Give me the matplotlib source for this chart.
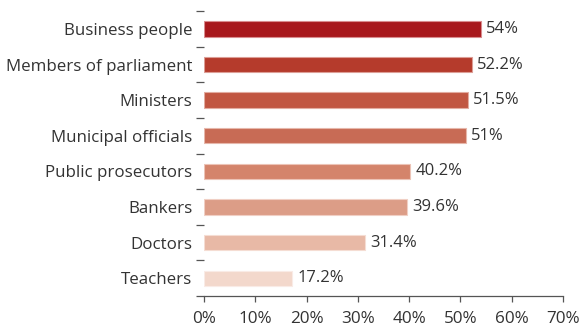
import matplotlib
matplotlib.use('Agg')
import matplotlib.pyplot as plt
import numpy as np

plt.rcParams['font.family'] = ['Open Sans', 'DejaVu Sans']

groups = ['Business people', 'Members of parliament', 'Ministers', 'Municipal officials',
          'Public prosecutors', 'Bankers', 'Doctors', 'Teachers']
shares = [54, 52.2, 51.5, 51, 40.2, 39.6, 31.4, 17.2]
share_labels = ['54%', '52.2%', '51.5%', '51%', '40.2%', '39.6%', '31.4%', '17.2%']
bar_colors = ['#a8181c', '#b53b2c', '#c15641', '#c86b55', '#d4846b', '#dc9d87', '#e8b9a6', '#f3d8cc']
edge_colors = ['#d98c8e', '#dc9e96', '#e2aca0', '#e6b7ab', '#ecc3b6', '#f0cfc4', '#f5ddd3', '#f9ebe6']

text_col = '#333333'
axis_col = '#555555'

fig = plt.figure(figsize=(5.81, 3.26), dpi=100)
ax = fig.add_axes([0.3511, 0.092, 0.969 - 0.3511, 0.966 - 0.092])

y = np.arange(len(groups))
bars = ax.barh(y, shares, height=0.43, color=bar_colors, edgecolor=edge_colors, linewidth=0.8)

# value labels just right of each bar
for b, lab in zip(bars, share_labels):
    ax.annotate(lab, (b.get_width(), b.get_y() + b.get_height() / 2),
                xytext=(3.6, 0), textcoords='offset points', va='center', ha='left',
                fontsize=12, color=text_col)

ax.set_xlim(0, 70)
ax.set_ylim(7.5, -0.5)
ax.set_xticks(range(0, 71, 10))
ax.set_xticklabels([f'{v}%' for v in range(0, 71, 10)])
ax.set_yticks(y)
ax.set_yticklabels(groups)
ax.set_yticks(np.arange(-0.5, 8, 1), minor=True)

for s in ['top', 'right', 'left']:
    ax.spines[s].set_visible(False)
ax.spines['bottom'].set_color(axis_col)
ax.spines['bottom'].set_linewidth(0.9)

ax.tick_params(axis='y', which='major', length=0, pad=8.5, labelsize=12.2, labelcolor=text_col)
ax.tick_params(axis='y', which='minor', length=5.5, width=0.9, color=axis_col)
ax.tick_params(axis='x', which='major', length=4.5, width=0.9, color=axis_col, pad=6.5,
               labelsize=12.3, labelcolor=text_col)

fig.savefig('out.png', dpi=100)
